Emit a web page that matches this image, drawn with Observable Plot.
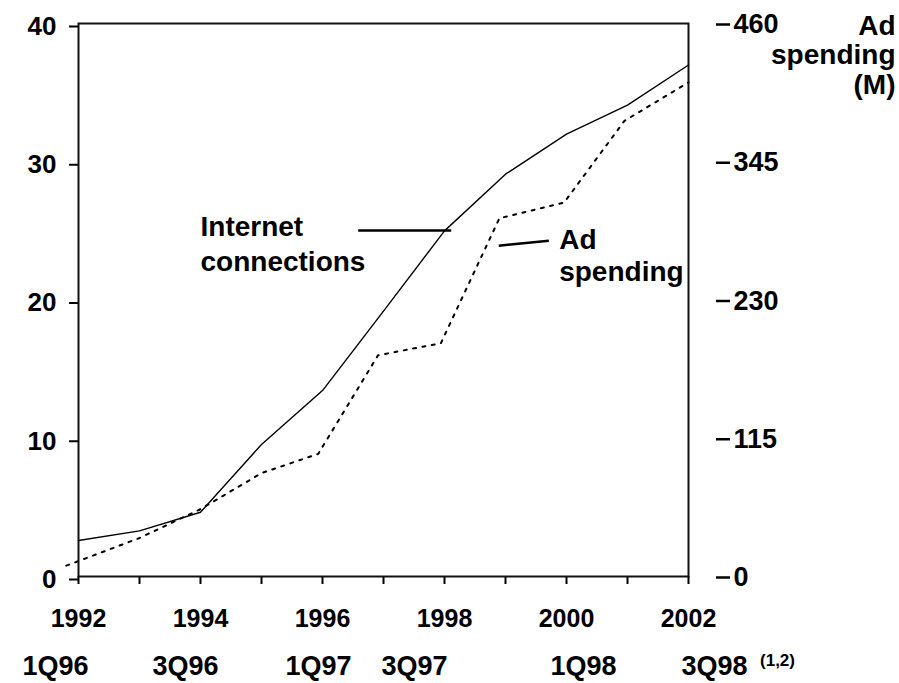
<!DOCTYPE html>
<html><head><meta charset="utf-8">
<script src="https://cdn.jsdelivr.net/npm/d3@7"></script>
<script src="https://cdn.jsdelivr.net/npm/@observablehq/plot@0.6"></script>
<style>
html,body{margin:0;padding:0;background:#fff;}
#chart svg{display:block;}
</style></head><body><div id="chart"></div>
<script>
// ---- data ----
const years = [1992, 1993, 1994, 1995, 1996, 1997, 1998, 1999, 2000, 2001, 2002];
const internetConnections = [2.6, 3.3, 4.65, 9.55, 13.45, 19.2, 25.0, 29.1, 32.0, 34.1, 37.0];
const adSpendingX = [1991.8, 1993, 1994, 1995, 1995.93, 1996.91, 1997.94, 1998.9, 1999.96, 2000.95, 2002];
const adSpendingM = [9, 32, 56, 86, 102, 184, 194, 298, 311, 379, 411];
const leftTicks = [0, 10, 20, 30, 40];
const rightTicks = [0, 115, 230, 345, 460];
const yearLabels = [1992, 1994, 1996, 1998, 2000, 2002];
const quarterLabels = ["1Q96", "3Q96", "1Q97", "3Q97", "1Q98", "3Q98"];
const footnote = "(1,2)";
const seriesLabels = ["Internet\nconnections", "Ad\nspending"];
const rightAxisTitle = "Ad\nspending\n(M)";

// ---- derived ----
const M = rightTicks[rightTicks.length - 1] / leftTicks[leftTicks.length - 1];
const internet = years.map((year, i) => ({year, value: internetConnections[i]}));
const ad = adSpendingX.map((x, i) => ({x, value: adSpendingM[i] / M}));

const font = '"Liberation Sans", Arial, Helvetica, sans-serif';
const quarterNudge = [-23, -15, -4, -30, 17, 26];

const plot = Plot.plot({
  width: 899,
  height: 683,
  marginLeft: 78,
  marginRight: 211,
  marginTop: 23,
  marginBottom: 107,
  style: {fontFamily: font, fontWeight: "bold", fontSize: "26px", color: "#000", background: "#fff", overflow: "visible"},
  x: {domain: [years[0], years[years.length - 1]]},
  y: {domain: [leftTicks[0], leftTicks[leftTicks.length - 1]]},
  marks: [
    Plot.axisY({ticks: leftTicks, anchor: "left", tickSize: 9, tickPadding: 13, strokeWidth: 2, fontSize: 26, dy: 3, label: null, tickFormat: d => String(d)}),
    Plot.axisY({ticks: rightTicks.map(v => v / M), anchor: "right", tickSize: 14, tickPadding: 4, dx: 27, dy: 1, strokeWidth: 2.5, fontSize: 27, label: null, tickFormat: d => String(Math.round(d * M))}),
    Plot.axisX({ticks: years, anchor: "bottom", tickSize: 8, tickPadding: 25, strokeWidth: 2, fontSize: 25, label: null, tickFormat: d => yearLabels.includes(d) ? String(d) : ""}),
    ...quarterLabels.map((q, i) => Plot.text([q], {x: yearLabels[i], frameAnchor: "bottom", dy: 98, dx: quarterNudge[i], lineAnchor: "bottom", textAnchor: "middle", fontSize: 27, fontWeight: "bold", fill: "#000"})),
    Plot.text([footnote], {x: yearLabels[yearLabels.length - 1], frameAnchor: "bottom", dx: 89, dy: 89, lineAnchor: "bottom", textAnchor: "middle", fontSize: 17, fontWeight: "bold", fill: "#000"}),
    Plot.line(internet, {x: "year", y: "value", stroke: "#000", strokeWidth: 1.4}),
    Plot.line(ad, {x: "x", y: "value", stroke: "#000", strokeWidth: 2, strokeDasharray: "3,6.5"}),
    Plot.frame({stroke: "#111", strokeWidth: 2}),
    Plot.text([seriesLabels[0]], {x: 1994.0, y: 22.13, textAnchor: "start", lineAnchor: "bottom", lineHeight: 1.25, fontSize: 28, fontWeight: "bold", fill: "#000"}),
    Plot.link([{x1: 1996.585, x2: 1998.11, y1: 25.02, y2: 25.02}], {x1: "x1", x2: "x2", y1: "y1", y2: "y2", stroke: "#000", strokeWidth: 2.5}),
    Plot.text([seriesLabels[1]], {x: 1999.88, y: 21.41, textAnchor: "start", lineAnchor: "bottom", lineHeight: 1.143, fontSize: 28, fontWeight: "bold", fill: "#000"}),
    Plot.link([{x1: 1998.89, x2: 1999.71, y1: 23.93, y2: 24.29}], {x1: "x1", x2: "x2", y1: "y1", y2: "y2", stroke: "#000", strokeWidth: 2.5}),
    Plot.text([rightAxisTitle], {frameAnchor: "top-right", dx: 207, dy: 70, textAnchor: "end", lineAnchor: "bottom", lineHeight: 1.04, fontSize: 28, fontWeight: "bold", fill: "#000"})
  ]
});
document.getElementById("chart").appendChild(plot);
</script>
</body></html>
